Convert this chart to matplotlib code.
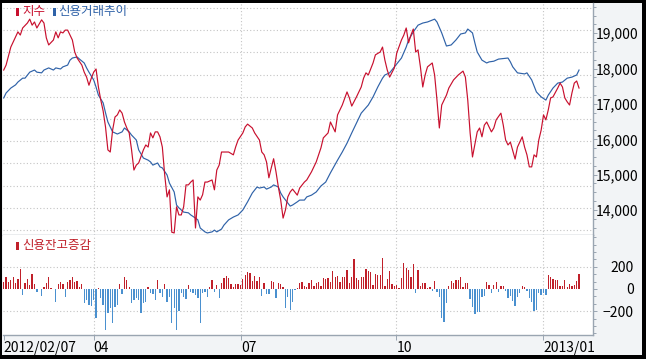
import numpy as np
import matplotlib
matplotlib.use('Agg')
import matplotlib.pyplot as plt
from matplotlib.patches import Rectangle
from matplotlib.ticker import MultipleLocator, FuncFormatter

plt.rcParams['font.family'] = ['Liberation Sans Narrow', 'Noto Sans CJK KR', 'DejaVu Sans']

# ============ 데이터 (거래일 인덱스 기준) ============
# 지수 (빨간선)
index_days = [0, 1, 3, 5, 6, 7, 8, 10, 11, 12, 13, 14, 16, 17, 18, 19, 21, 22, 23, 24,
              25, 26, 27, 29, 30, 31, 33, 34, 35, 36, 37, 38, 39, 40, 41, 42, 43, 44, 45, 46,
              47, 48, 49, 50, 51, 52, 53, 54, 55, 56, 57, 59, 60, 61, 62, 63, 64, 65, 66, 67,
              68, 69, 70, 71, 72, 73, 74, 75, 76, 77, 78, 79, 80, 81, 82, 83, 84, 85, 86, 88,
              89, 90, 91, 92, 95, 97, 98, 99, 101, 102, 103, 105, 106, 108, 109, 110, 111, 112, 113, 114,
              115, 116, 117, 118, 119, 120, 121, 122, 124, 125, 127, 128, 130, 132, 134, 135, 137, 138, 140, 141,
              143, 145, 146, 147, 149, 151, 152, 153, 154, 156, 157, 159, 160, 161, 162, 163, 165, 166, 168, 169,
              170, 171, 172, 173, 174, 175, 176, 177, 178, 179, 181, 182, 183, 184, 185, 186, 187, 188, 190, 192,
              194, 195, 196, 197, 198, 200, 201, 202, 203, 204, 205, 206, 207, 208, 210, 211, 212, 213, 214, 216,
              217, 219, 220, 221, 222, 223, 224, 225, 226, 227, 228, 229, 230, 231, 232, 234, 235, 236, 237, 238,
              239, 240, 241, 242, 243]
index_vals = [17960, 18100, 18610, 18900, 19040, 18950, 19150, 19290, 19400, 19230, 19320, 19150, 19380, 19290, 18870, 18670, 18810, 19040, 18870, 19040,
              19010, 19090, 19090, 18810, 18470, 18300, 18100, 17900, 17760, 17530, 17730, 17900, 17990, 17480, 17110, 16800, 16350, 15700, 15640, 16260,
              16630, 16690, 16830, 16740, 16490, 16320, 16180, 15700, 15130, 15270, 15330, 15700, 15840, 15780, 16180, 16040, 16210, 16210, 16070, 15780,
              14990, 14370, 14570, 13370, 13350, 14090, 13860, 13860, 14090, 14710, 14710, 14790, 14850, 13490, 14370, 14280, 14430, 14790, 14790, 14850,
              14570, 15130, 15270, 15640, 15640, 15560, 15790, 15980, 16180, 16350, 16430, 16320, 16180, 15980, 15640, 15560, 15360, 14910, 15190, 15450,
              15080, 14650, 14280, 13770, 14000, 14370, 14510, 14590, 14420, 14620, 14790, 14850, 15080, 15360, 15760, 16040, 16180, 16490, 16210, 16690,
              16970, 17340, 17170, 16940, 17200, 17480, 17730, 17880, 17820, 18160, 18390, 18470, 18610, 18240, 17960, 17760, 18020, 18440, 18810, 18950,
              19150, 18730, 18950, 19120, 18470, 18530, 18050, 17480, 17820, 18050, 18160, 17820, 17110, 16320, 16970, 17110, 17250, 17450, 17680, 17820,
              17930, 17760, 17110, 16180, 15500, 16210, 16320, 16070, 16400, 16490, 16350, 16210, 16320, 16550, 16740, 16400, 15980, 15840, 15920, 15440,
              15780, 16070, 15780, 15560, 15220, 15220, 15560, 15500, 15980, 16260, 16690, 16550, 16830, 17170, 17200, 17450, 17590, 17480, 17170, 17060,
              16970, 17310, 17590, 17650, 17450]

# 신용거래추이 (파란선, 지수 눈금 기준으로 환산)
credit_days = [0, 1, 3, 5, 6, 8, 9, 11, 13, 14, 16, 17, 19, 21, 22, 24, 25, 27, 28, 29,
               31, 32, 34, 35, 36, 38, 39, 40, 42, 43, 44, 46, 48, 50, 51, 53, 54, 56, 57, 59,
               61, 62, 63, 65, 66, 67, 69, 70, 72, 73, 74, 76, 78, 79, 81, 82, 83, 85, 86, 88,
               89, 90, 92, 93, 95, 97, 99, 101, 103, 105, 107, 108, 110, 111, 113, 114, 116, 117, 118, 120,
               121, 122, 124, 125, 127, 128, 130, 132, 134, 136, 138, 141, 143, 145, 147, 149, 151, 154, 156, 158,
               160, 161, 163, 165, 168, 170, 171, 173, 175, 177, 179, 182, 183, 185, 187, 189, 191, 193, 195, 196,
               198, 199, 200, 202, 204, 205, 207, 209, 213, 214, 215, 217, 220, 221, 223, 225, 227, 229, 230, 232,
               234, 236, 238, 240, 242, 243]
credit_vals = [17170, 17310, 17450, 17540, 17620, 17730, 17730, 17900, 17960, 17900, 17880, 17960, 18020, 17960, 18020, 17990, 18050, 18100, 18240, 18300,
               18330, 18270, 18160, 18020, 17900, 17680, 17480, 17250, 17030, 16750, 16490, 16210, 16150, 16210, 16320, 16210, 16120, 15980, 15700, 15470,
               15410, 15360, 15270, 15330, 15220, 15190, 14990, 14760, 14510, 14140, 14060, 13940, 13920, 13860, 13770, 13720, 13490, 13380, 13350, 13380,
               13430, 13380, 13460, 13570, 13720, 13800, 13860, 14000, 14230, 14480, 14650, 14620, 14650, 14590, 14650, 14710, 14650, 14480, 14370, 14200,
               14110, 14140, 14230, 14280, 14280, 14370, 14420, 14510, 14680, 14790, 15050, 15410, 15640, 15890, 16180, 16460, 16740, 16970, 17200, 17480,
               17730, 17820, 17880, 18050, 18300, 18610, 18810, 19040, 19230, 19290, 19320, 19400, 19320, 19010, 18640, 18670, 18810, 18980, 19010, 19120,
               19010, 18730, 18470, 18240, 18160, 18190, 18210, 18270, 18300, 18190, 18050, 17880, 17850, 17880, 17680, 17340, 17200, 17110, 17250, 17450,
               17590, 17620, 17730, 17760, 17820, 17960]

# 신용잔고증감 (막대, 일별)
balance_change = [66, 111, 66, 81, 111, 51, 87, 180, -54, 51, 87, 36, 135, 42, -30, 4, -60, 15, 57, 105,
                  6, -4, -114, 42, 60, 48, -75, 60, 81, 111, 60, 69, 21, 42, -129, -99, -144, -150, -99, -264,
                  5, -84, -144, -369, -219, -174, -303, -159, -144, 42, -45, 105, 81, 15, -129, -99, -84, -99, -219, -123,
                  -114, 15,
                  -39, -45, -99, 81, -39, -69, 45, -114, -69, -309, -174, -369, -195, -39, -69, -93, 36, -24, -33, -54,
                  -84, -303, -33, -24, -69, 15, 81, -30, 36, -78, 51, 96, 117, 96, 42, 21, 42, 45, 36, 87,
                  126, 150, 141, 72, 117, 72, 111, -60, 57, -48, -48, 72, 66, -84, 51, 42, 15, -174, -69, -189,
                  -120, -9, 12,
                  51, 63, 27, 18, 51, 81, 27, 51, 63, 27, 99, 87, 99, 63, 162, 108, 117, 63, 105, 111,
                  171, 51, 105, 270, 99, 81, 105, 105, 180, 162, 153, 36, 135, 126, 126, 279, 27, 87, 162, 45,
                  27, 39, 9, 99, 234, 189, 171, 108, 225, -33, 171, 27, 51, 51, 12, 18, -15, 72, -27, -69,
                  -264,
                  -294, -129, 27, 69, 57, 81, 81, 111, 15, 57, 51, -93, -159, -228, -204, -204, -69, -63, 63, 36,
                  -33, 36, 63, -24, 27, 27, -15, -84, -63, -105, -153, -69, -39, 27, 21, -15, -84, -120, -195, -189,
                  -39, -54, -39, -54, 126, 111, 90, 84, 81, 27, 27, 81, 15, 45, 27, 36, 72, 135]

date_ticks = [0, 38.0, 100.4, 165.8, 227.8]
date_labels = ['2012/02/07', '04', '07', '10', '2013/01']

index_ticks = [14000, 15000, 16000, 17000, 18000, 19000]
change_ticks = [-200, 0, 200]

# ============ 스타일 ============
W, H = 646, 359
RED = '#c8102e'
BLUE = '#2f62a8'
BAR_RED = '#c0202a'
BAR_BLUE = '#4a90cf'
FRAME = '#9aa5b1'
GRID = '#c4c4c4'
KFONT = ['Noto Sans CJK KR']


def fx(px):
    return px / W


def fy(px):
    return 1 - px / H


fig = plt.figure(figsize=(W / 100, H / 100), dpi=100, facecolor='black')

# 바깥 배경
bg = fig.add_axes([fx(2), fy(355), fx(640), 352 / H])
bg.set_facecolor('#f2f4f6')
bg.set_xticks([])
bg.set_yticks([])
for s in bg.spines.values():
    s.set_visible(False)

ax1 = fig.add_axes([fx(3), fy(235), fx(590), 232 / H])
ax2 = fig.add_axes([fx(3), fy(335), fx(590), 100 / H])

xlim = (-0.3, 248.9)

# ---- 상단: 지수 / 신용거래추이 ----
ax1.set_facecolor('white')
ax1.plot(credit_days, credit_vals, color=BLUE, lw=0.85, zorder=3)
ax1.plot(index_days, index_vals, color=RED, lw=0.85, zorder=4)
ax1.set_xlim(*xlim)
ax1.set_ylim(13292, 19857)

for lv in np.linspace(19716, 13436, 11):
    ax1.axhline(lv, color=GRID, lw=0.8, ls=(0, (1, 2)), zorder=1)
for t in date_ticks[1:]:
    ax1.axvline(t, color=GRID, lw=0.8, ls=(0, (1, 2)), zorder=1)

ax1.yaxis.tick_right()
ax1.set_yticks(index_ticks)
ax1.yaxis.set_major_formatter(FuncFormatter(lambda v, p: f'{int(v):,}'))
ax1.yaxis.set_minor_locator(MultipleLocator(250))
ax1.tick_params(axis='y', which='major', length=3, width=0.7, color=FRAME,
                pad=29.5, labelsize=10)
ax1.tick_params(axis='y', which='minor', length=2.2, width=0.7, color=FRAME)
for lab in ax1.get_yticklabels():
    lab.set_horizontalalignment('right')
ax1.set_xticks([])
for side in ['top', 'left']:
    ax1.spines[side].set_visible(False)
for side in ['right', 'bottom']:
    ax1.spines[side].set_color(FRAME)
    ax1.spines[side].set_linewidth(1.0)

# 범례
ax1.add_patch(Rectangle((13 / 590, 0.944), 2.5 / 590, 0.034, transform=ax1.transAxes,
                        color=RED, lw=0, zorder=5))
ax1.text(19 / 590, 0.962, '지수', transform=ax1.transAxes, color=RED,
         fontsize=9, family=KFONT, ha='left', va='center', zorder=5)
ax1.add_patch(Rectangle((50 / 590, 0.944), 2.5 / 590, 0.034, transform=ax1.transAxes,
                        color=BLUE, lw=0, zorder=5))
ax1.text(55 / 590, 0.962, '신용거래추이', transform=ax1.transAxes, color=BLUE,
         fontsize=9, family=KFONT, ha='left', va='center', zorder=5)

# ---- 하단: 신용잔고증감 ----
ax2.set_facecolor('white')
days = np.arange(len(balance_change))
vals = np.array(balance_change)
colors = [BAR_RED if v >= 0 else BAR_BLUE for v in vals]
ax2.bar(days, vals, width=0.55, color=colors, lw=0, zorder=3)
ax2.set_xlim(*xlim)
ax2.set_ylim(-414, 486)

for lv in [200, -200]:
    ax2.axhline(lv, color=GRID, lw=0.8, ls=(0, (1, 2)), zorder=1)
for t in date_ticks[1:]:
    ax2.axvline(t, color=GRID, lw=0.8, ls=(0, (1, 2)), zorder=1)

ax2.yaxis.tick_right()
ax2.set_yticks(change_ticks)
ax2.yaxis.set_minor_locator(MultipleLocator(200 / 3))
ax2.tick_params(axis='y', which='major', length=3, width=0.7, color=FRAME,
                pad=26.5, labelsize=10)
ax2.tick_params(axis='y', which='minor', length=2.2, width=0.7, color=FRAME)
for lab in ax2.get_yticklabels():
    lab.set_horizontalalignment('right')

ax2.set_xticks(date_ticks)
ax2.set_xticklabels(date_labels)
ax2.tick_params(axis='x', length=3.6, width=0.7, color=FRAME, pad=1.0, labelsize=10)
for lab in ax2.get_xticklabels():
    lab.set_horizontalalignment('left')
for side in ['top', 'left']:
    ax2.spines[side].set_visible(False)
for side in ['right', 'bottom']:
    ax2.spines[side].set_color(FRAME)
    ax2.spines[side].set_linewidth(1.0)

ax2.add_patch(Rectangle((13 / 590, 0.85), 2.5 / 590, 0.08, transform=ax2.transAxes,
                        color=BAR_RED, lw=0, zorder=5))
ax2.text(19 / 590, 0.89, '신용잔고증감', transform=ax2.transAxes, color=BAR_RED,
         fontsize=9, family=KFONT, ha='left', va='center', zorder=5)

fig.savefig('out.png', dpi=100, facecolor='black')
